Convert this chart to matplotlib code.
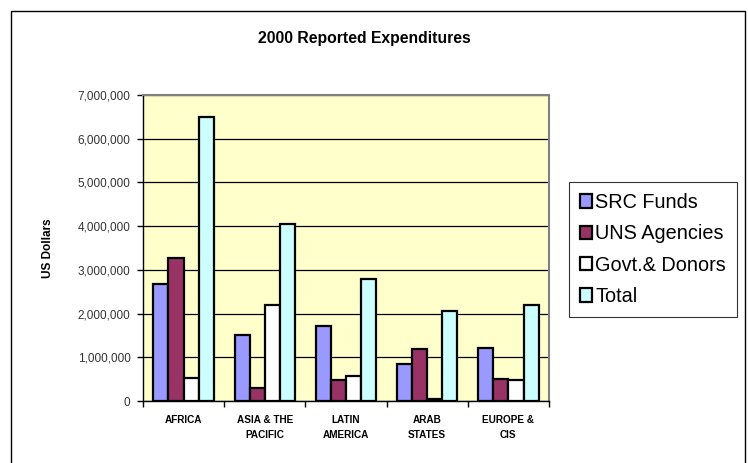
import matplotlib
matplotlib.use("Agg")
import matplotlib.pyplot as plt
import matplotlib.patches as mpatches
import numpy as np

categories = ["AFRICA", "ASIA & THE\nPACIFIC", "LATIN\nAMERICA", "ARAB\nSTATES", "EUROPE &\nCIS"]
series_names = ["SRC Funds", "UNS Agencies", "Govt.& Donors", "Total"]
src_funds = [2680000, 1520000, 1710000, 840000, 1220000]
uns_agencies = [3280000, 300000, 470000, 1180000, 500000]
govt_donors = [535000, 2190000, 580000, 50000, 470000]
total = [6500000, 4040000, 2780000, 2070000, 2190000]
yticks = [0, 1000000, 2000000, 3000000, 4000000, 5000000, 6000000, 7000000]
ytick_labels = ["0", "1,000,000", "2,000,000", "3,000,000", "4,000,000",
                "5,000,000", "6,000,000", "7,000,000"]
colors = ["#9999FF", "#993366", "#FFFFFF", "#CCFFFF"]

plt.rcParams['font.family'] = ['Liberation Sans', 'DejaVu Sans']

W, H = 748, 463
fig = plt.figure(figsize=(W / 100, H / 100), dpi=100)

# outer chart border
fig.patches.append(mpatches.Rectangle((11 / W, -0.05), (745 - 11) / W, 1.05 - 11 / H,
                                      transform=fig.transFigure, fill=False,
                                      edgecolor="black", linewidth=1.0, zorder=0))

ax = fig.add_axes([143 / W, (H - 401) / H, (549 - 143) / W, (401 - 95) / H])
ax.set_facecolor("#FFFFCC")

x = np.arange(len(categories))
w = 0.186
data = [src_funds, uns_agencies, govt_donors, total]
handles = []
for i, (vals, col, name) in enumerate(zip(data, colors, series_names)):
    b = ax.bar(x + (i - 1.5) * w, vals, width=w, color=col, edgecolor="black",
               linewidth=1.6, label=name, zorder=3)
    handles.append(b)

ax.set_xlim(-0.5, len(categories) - 0.5)
ax.set_ylim(0, 7000000)
ax.set_yticks(yticks)
ax.set_yticklabels(ytick_labels, fontsize=8.5, color="#333333")
ax.yaxis.grid(True, color="black", linewidth=0.9, zorder=1)
ax.set_axisbelow(True)
ax.tick_params(axis="y", direction="out", length=4, width=1, color="black", pad=5)

ax.set_xticks(x)
ax.set_xticklabels(categories, fontsize=7.2, fontweight="bold", linespacing=1.6)
ax.set_xticks(np.arange(-0.5, len(categories), 1.0), minor=True)
ax.tick_params(axis="x", which="major", length=0, pad=10)
ax.tick_params(axis="x", which="minor", direction="out", length=4, width=1, color="black")

for side in ["top", "right"]:
    ax.spines[side].set_color("#808080")
    ax.spines[side].set_linewidth(1.5)
for side in ["left", "bottom"]:
    ax.spines[side].set_color("black")
    ax.spines[side].set_linewidth(1.0)

ax.set_ylabel("US Dollars", fontsize=8.5, fontweight="bold", labelpad=17)

fig.text(364 / W, 1 - 38 / H, "2000 Reported Expenditures", fontsize=11.3,
         fontweight="bold", ha="center", va="center")

leg = fig.legend(handles=handles, labels=series_names, loc="upper left",
                 bbox_to_anchor=(569 / W, 1 - 182 / H), fontsize=14.3,
                 frameon=True, fancybox=False, edgecolor="black",
                 handlelength=0.62, handleheight=0.65, handletextpad=0.15,
                 labelspacing=0.62, borderpad=0.55, borderaxespad=0)
leg.get_frame().set_linewidth(0.8)

fig.savefig("out.png", dpi=100)
